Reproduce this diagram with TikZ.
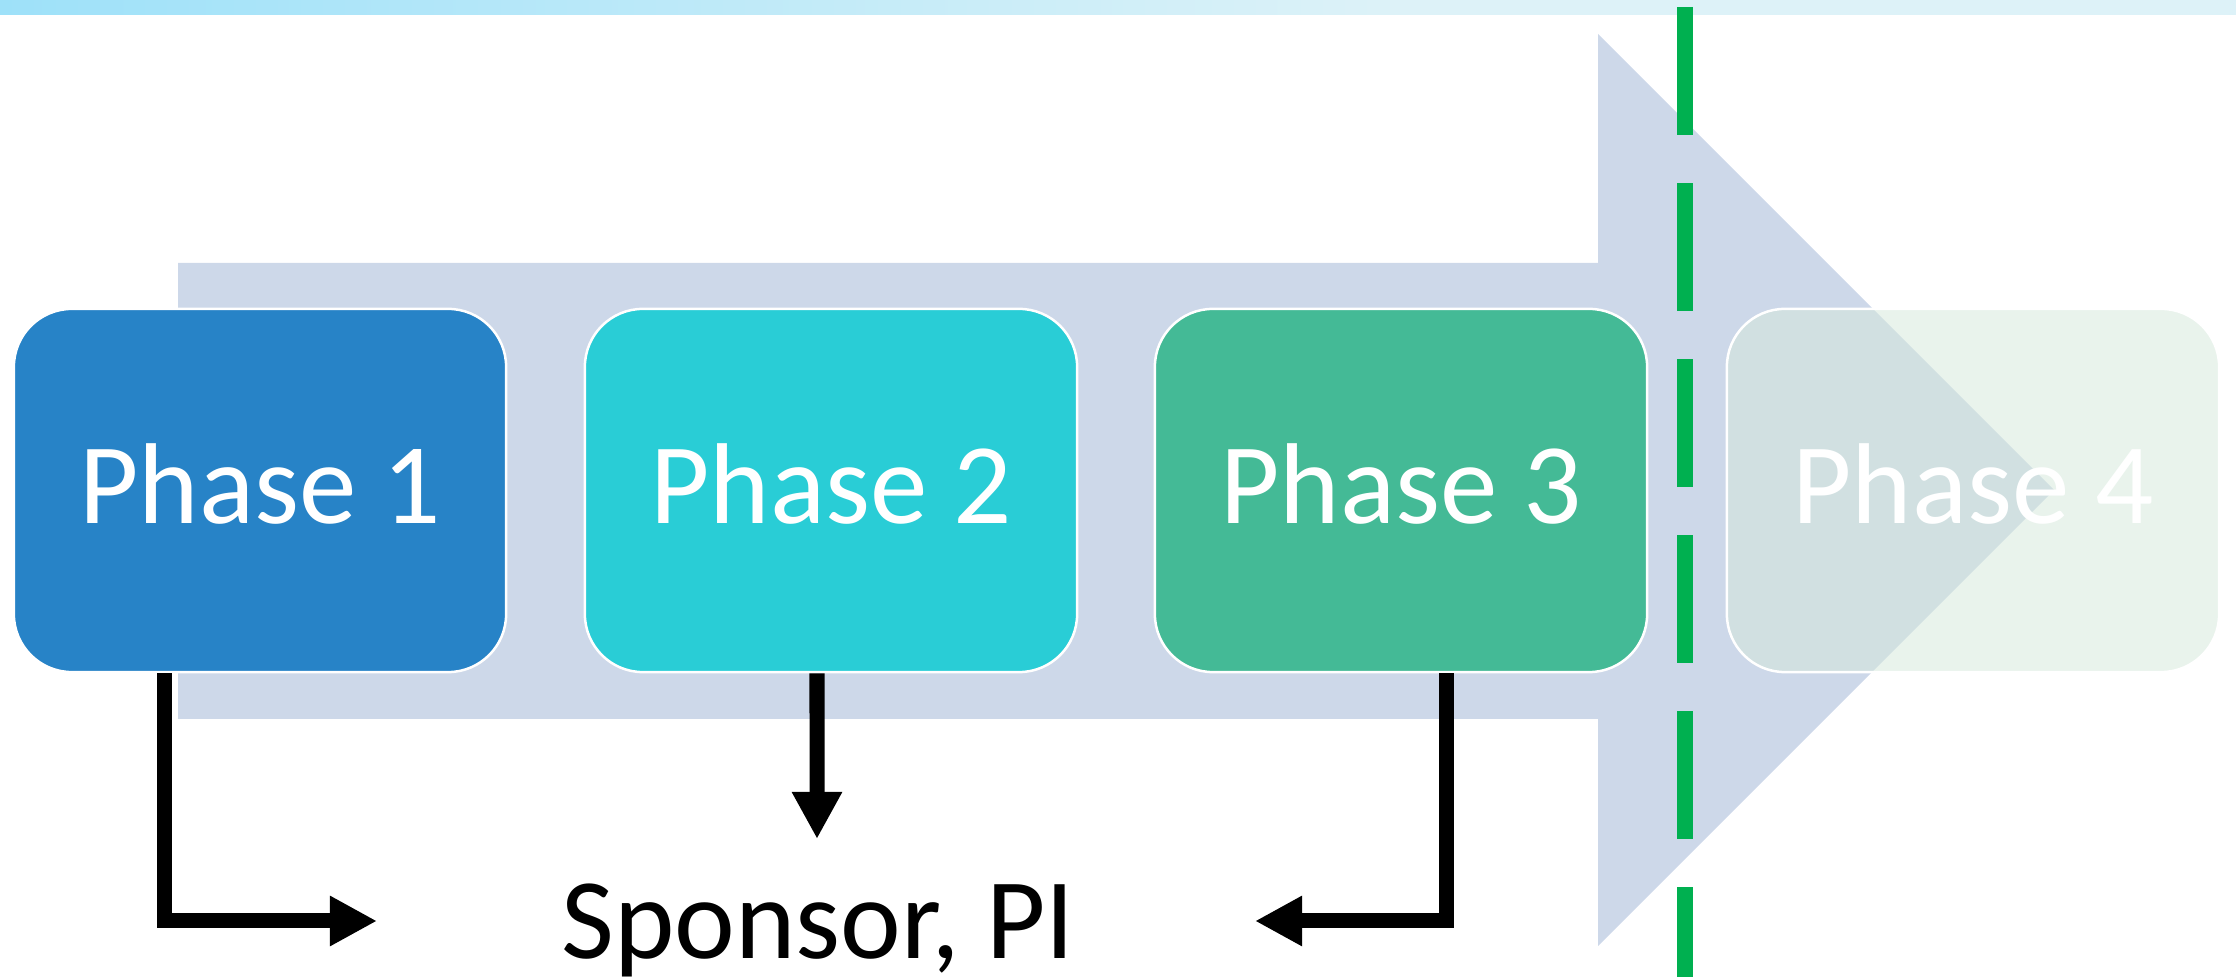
\documentclass[tikz,border=0pt]{standalone}
\usepackage{fontspec}
\setmainfont{Carlito}
\usetikzlibrary{arrows.meta,calc}
\definecolor{barL}{RGB}{158,225,249}
\definecolor{barR}{RGB}{221,242,248}
\definecolor{arrowblue}{RGB}{205,216,233}
\definecolor{ph1}{RGB}{39,131,199}
\definecolor{ph2}{RGB}{41,205,214}
\definecolor{ph3}{RGB}{68,186,150}
\definecolor{ph4}{RGB}{213,232,219}
\definecolor{divgreen}{RGB}{0,176,80}
\begin{document}
\begin{tikzpicture}[x=0.01cm,y=-0.01cm,
  phasebox/.style={rounded corners=0.58cm, draw=white, line width=0.025cm,
    minimum width=4.92cm, minimum height=3.63cm, inner sep=0pt, text=white,
    font=\fontsize{32.7}{39}\selectfont, text height=0.65cm, text depth=0pt},
  conn/.style={draw=black, line width=0.15cm, line join=miter,
    -{Triangle[width=0.47cm,length=0.47cm]}},
  labeltext/.style={font=\fontsize{32.7}{39}\selectfont, text=black, inner sep=0pt}
]
\useasboundingbox (0,0) rectangle (2236,977);
% top gradient bar
\shade[left color=barL, right color=barR] (0,0) rectangle (1400,15);
\fill[barR] (1399,0) rectangle (2236,15);
% big background arrow
\fill[arrowblue] (178,263) -- (1598,263) -- (1598,34) -- (2054,490) -- (1598,946) -- (1598,719) -- (178,719) -- cycle;
% phase boxes
\node[phasebox, fill=ph1] (p1) at (260,490.5) {Phase 1};
\node[phasebox, fill=ph2] (p2) at (831,490.5) {Phase 2};
\node[phasebox, fill=ph3] (p3) at (1401,490.5) {Phase 3};
\node[phasebox, fill=ph4, fill opacity=0.53, text opacity=1] (p4) at (1973,490.5) {Phase 4};
% label
\node[labeltext, anchor=base] (sp) at (818,959) {Sponsor, PI};
% connector ends
\coordinate (t1) at (377,921);
\coordinate (t2) at (817,839);
\coordinate (t3) at (1255,921);
\draw[conn] ([xshift=-0.95cm]p1.south) |- (t1);
\draw[conn] ([xshift=-0.14cm]p2.south) -- (t2);
\draw[conn] ([xshift=0.45cm]p3.south) |- (t3);
% green dashed divider
\draw[divgreen, line width=0.16cm, dash pattern=on 1.28cm off 0.48cm] (1685,7) -- (1685,977);
\end{tikzpicture}
\end{document}
